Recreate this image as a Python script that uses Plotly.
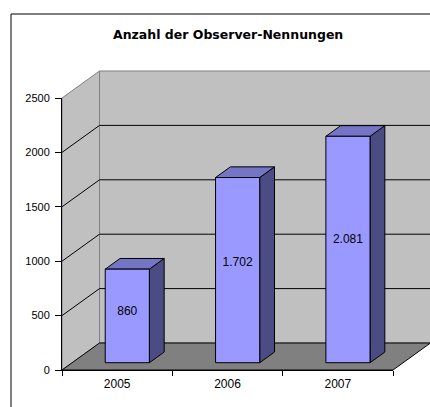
import plotly.graph_objects as go

# ---------------- data ----------------
categories = ["2005", "2006", "2007"]
values = [860, 1702, 2081]
value_labels = ["860", "1.702", "2.081"]
y_ticks = [0, 500, 1000, 1500, 2000, 2500]
title_text = "Anzahl der Observer-Nennungen"

# ---------------- geometry / style ----------------
W, H = 430, 407
AX_L, AX_R, AX_B, AX_T = 62, 393, 370, 98   # front axis box in pixels
YMAX = y_ticks[-1]
n = len(categories)
px_per_cat = (AX_R - AX_L) / n
px_per_val = (AX_B - AX_T) / YMAX
DX = 37.5 / px_per_cat          # depth offset (category units)
DY = 27.0 / px_per_val          # depth offset (value units)
x_range = [-0.5 - AX_L / px_per_cat, -0.5 + (W - AX_L) / px_per_cat]
y_range = [-(H - AX_B) / px_per_val, AX_B / px_per_val]

BAR_W = 0.4
D1, D2 = 0.27, 0.665            # bar front/back depth fractions
LABEL_POS = 0.54

FONT = "Liberation Sans, Arial, sans-serif"
TITLE_FONT = "DejaVu Sans, Liberation Sans, sans-serif"
WALL = "#C0C0C0"
FLOOR = "#808080"
EDGE = "#808080"
FRONT = "#9999FF"
TOP = "#7575C6"
SIDE = "#4C4C84"

fig = go.Figure()


def poly(xs, ys, fill, line, width=1):
    fig.add_trace(go.Scatter(
        x=list(xs) + [xs[0]], y=list(ys) + [ys[0]], mode="lines",
        fill="toself", fillcolor=fill, line=dict(color=line, width=width),
        hoverinfo="skip", xaxis="x", yaxis="y"))


def seg(xs, ys, color):
    fig.add_trace(go.Scatter(x=xs, y=ys, mode="lines",
                             line=dict(color=color, width=1),
                             hoverinfo="skip", xaxis="x", yaxis="y"))


x0a, x1a = -0.5, n - 0.5
# back wall
poly([x0a + DX, x1a + DX, x1a + DX, x0a + DX],
     [DY, DY, YMAX + DY, YMAX + DY], WALL, EDGE)
# left wall
poly([x0a, x0a + DX, x0a + DX, x0a],
     [0, DY, YMAX + DY, YMAX], WALL, EDGE)
# floor
poly([x0a, x1a, x1a + DX, x0a + DX], [0, 0, DY, DY], FLOOR, "#000000")

# gridlines
for v in y_ticks[1:-1]:
    seg([x0a, x0a + DX, x1a + DX], [v, v + DY, v + DY], "#000000")

# bars
for i, v in enumerate(values):
    fx0 = i - BAR_W / 2 + D1 * DX
    fx1 = fx0 + BAR_W
    fy0 = D1 * DY
    fy1 = v + D1 * DY
    bx = (D2 - D1) * DX
    by = (D2 - D1) * DY
    poly([fx1, fx1 + bx, fx1 + bx, fx1], [fy0, fy0 + by, fy1 + by, fy1], SIDE, "#000000")
    poly([fx0, fx1, fx1 + bx, fx0 + bx], [fy1, fy1, fy1 + by, fy1 + by], TOP, "#000000")
    poly([fx0, fx1, fx1, fx0], [fy0, fy0, fy1, fy1], FRONT, "#000000")

# data labels
fig.add_trace(go.Scatter(
    x=[i + D1 * DX for i in range(n)],
    y=[LABEL_POS * v + D1 * DY for v in values],
    mode="text", text=value_labels,
    textfont=dict(family=FONT, size=12, color="#000000"),
    hoverinfo="skip", xaxis="x", yaxis="y"))

# front axes (real axes)
fig.add_trace(go.Scatter(x=categories, y=[0] * n, mode="markers",
                         marker=dict(opacity=0), hoverinfo="skip",
                         xaxis="x2", yaxis="y2"))

fig.update_layout(
    width=W, height=H,
    margin=dict(l=0, r=0, t=0, b=0, pad=0),
    paper_bgcolor="#FFFFFF", plot_bgcolor="rgba(0,0,0,0)",
    showlegend=False,
    xaxis=dict(domain=[0, 1], range=x_range, visible=False, fixedrange=True,
               automargin=False),
    yaxis=dict(domain=[0, 1], range=y_range, visible=False, fixedrange=True,
               automargin=False),
    xaxis2=dict(domain=[AX_L / W, AX_R / W], anchor="y2", type="category",
                categoryorder="array", categoryarray=categories,
                range=[-0.5, n - 0.5], tickson="boundaries", automargin=False,
                ticks="outside", ticklen=5, tickcolor="#000000",
                showline=True, linecolor="#000000", linewidth=1,
                showgrid=False, zeroline=False, fixedrange=True,
                ticklabelstandoff=3,
                tickfont=dict(family=FONT, size=12, color="#000000")),
    yaxis2=dict(domain=[(H - AX_B) / H, (H - AX_T) / H], anchor="x2",
                range=[0, YMAX], tickvals=y_ticks, automargin=False,
                ticks="outside", ticklen=6, tickcolor="#000000",
                showline=True, linecolor="#000000", linewidth=1,
                showgrid=False, zeroline=False, ticklabelstandoff=3,
                fixedrange=True,
                tickfont=dict(family=FONT, size=11, color="#000000")),
    shapes=[dict(type="rect", xref="paper", yref="paper",
                 x0=11 / W, x1=1.2, y0=-0.2, y1=1 - 14 / H,
                 line=dict(color="#000000", width=1), fillcolor="rgba(0,0,0,0)",
                 layer="above")],
    annotations=[dict(text="<b>" + title_text + "</b>", xref="paper", yref="paper",
                      x=227.5 / W, y=1 - 35 / H, xanchor="center", yanchor="middle",
                      showarrow=False,
                      font=dict(family=TITLE_FONT, size=12.5, color="#000000"))],
)

fig.write_html("out.html", config={"displayModeBar": False},
               post_script="document.body.style.margin='0';"
                           "document.body.style.overflow='hidden';")
